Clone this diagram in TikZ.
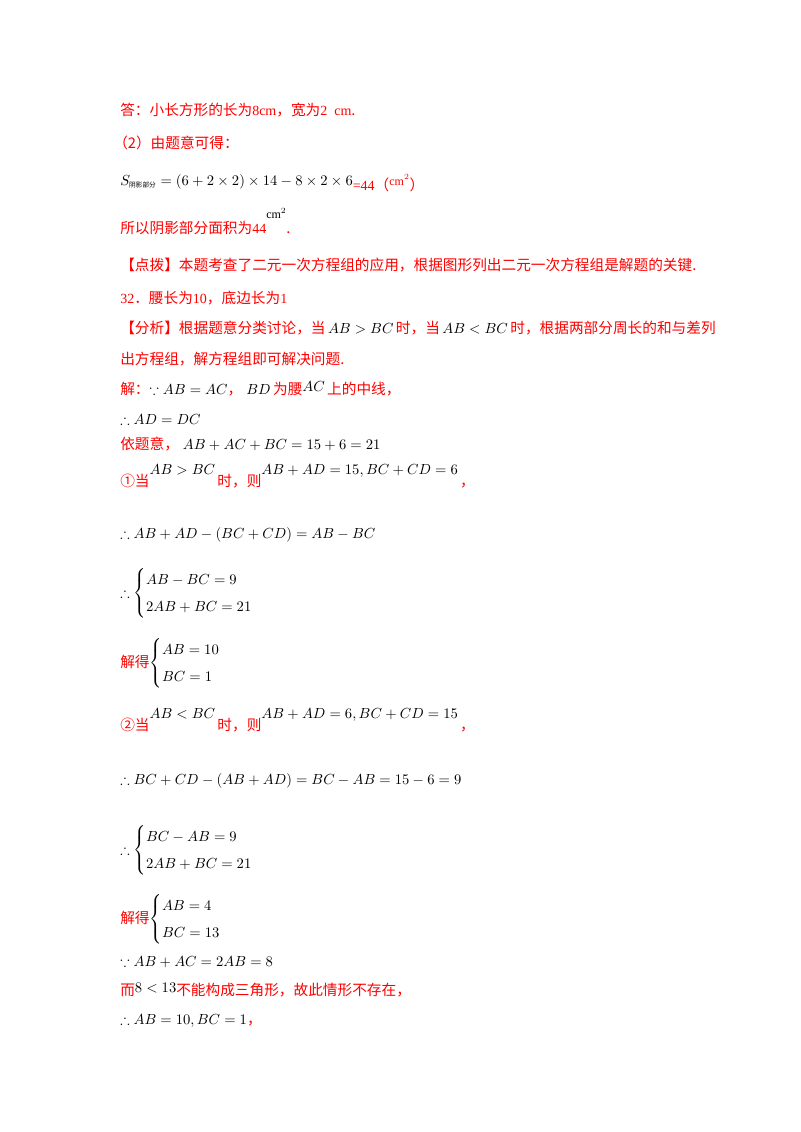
\documentclass[tikz,border=0pt]{standalone}
\usepackage{amsmath,amssymb}
\usepackage{fontspec}
\setmainfont{Liberation Serif}
\newfontfamily\cjk{Noto Sans CJK SC}
\definecolor{rd}{RGB}{255,0,0}
\newcommand{\R}[1]{{\color{rd}\cjk\fontsize{11}{13}\selectfont #1}}
\newcommand{\Rn}[1]{{\color{rd}#1}}
\newcommand{\up}[1]{\raisebox{9pt}{#1}}
\begin{document}
\begin{tikzpicture}[x=0.75pt,y=-0.75pt,
  ln/.style={anchor=base west,inner sep=0pt,font=\fontsize{10.5}{14}\selectfont}]
\useasboundingbox (0,0) rectangle (800,1132);
\node[ln] (l1) at (120,115) {\R{答：小长方形的长为}\Rn{8cm}\R{，宽为}\Rn{2\ \ cm}\R{.}};
\node[ln] (l2) at (113,148) {\R{（2）由题意可得：}};
\node[ln] (l3) at (120,185) {$S_{\text{\cjk\tiny 阴影部分}}=\left(6+2\times2\right)\times14-8\times2\times6$\raisebox{-4pt}{\Rn{=44}\R{（}\Rn{\raisebox{4pt}{\small cm$^2$}}\R{）}}};
\node[ln] (l4) at (120,233) {\R{所以阴影部分面积为}\Rn{44}\raisebox{11pt}{\small cm$^2$}\R{.}};
\node[ln] (l5) at (120,270) {\R{【点拨】本题考查了二元一次方程组的应用，根据图形列出二元一次方程组是解题的关键.}};
\node[ln] (l6) at (120,303) {\Rn{32}\R{．腰长为}\Rn{10}\R{，底边长为}\Rn{1}};
\node[ln] (l7) at (120,333) {\R{【分析】根据题意分类讨论，当}$\,AB>BC\,$\R{时，当}$\,AB<BC\,$\R{时，根据两部分周长的和与差列}};
\node[ln] (l8) at (120,364) {\R{出方程组，解方程组即可解决问题.}};
\node[ln] (l9) at (120,394) {\R{解：}$\because AB=AC$\R{，}$\;BD\,$\R{为腰}\raisebox{2pt}{$AC$}\,\R{上的中线，}};
\node[ln] (l10) at (120,424) {$\therefore AD=DC$};
\node[ln] (l11) at (120,449) {\R{依题意，}$\;AB+AC+BC=15+6=21$};
\node[ln] (l12) at (120,486) {\R{①当}\up{$AB>BC$}\,\R{时，则}\up{$AB+AD=15,BC+CD=6$}\,\R{，}};
\node[ln] (l13) at (120,538) {$\therefore AB+AD-\left(BC+CD\right)=AB-BC$};
\node[ln] (l14) at (120,597) {$\therefore\begin{cases}AB-BC=9\\[3pt]2AB+BC=21\end{cases}$};
\node[ln] (l15) at (120,667) {\R{解得}$\begin{cases}AB=10\\[3pt]BC=1\end{cases}$};
\node[ln] (l16) at (120,730) {\R{②当}\up{$AB<BC$}\,\R{时，则}\up{$AB+AD=6,BC+CD=15$}\,\R{，}};
\node[ln] (l17) at (120,784) {$\therefore BC+CD-\left(AB+AD\right)=BC-AB=15-6=9$};
\node[ln] (l18) at (120,854) {$\therefore\begin{cases}BC-AB=9\\[3pt]2AB+BC=21\end{cases}$};
\node[ln] (l19) at (120,923) {\R{解得}$\begin{cases}AB=4\\[3pt]BC=13\end{cases}$};
\node[ln] (l20) at (120,966) {$\because AB+AC=2AB=8$};
\node[ln] (l21) at (120,995) {\R{而}\raisebox{2pt}{$8<13$}\R{不能构成三角形，故此情形不存在，}};
\node[ln] (l22) at (120,1024) {$\therefore AB=10,BC=1$\R{，}};
\end{tikzpicture}
\end{document}
